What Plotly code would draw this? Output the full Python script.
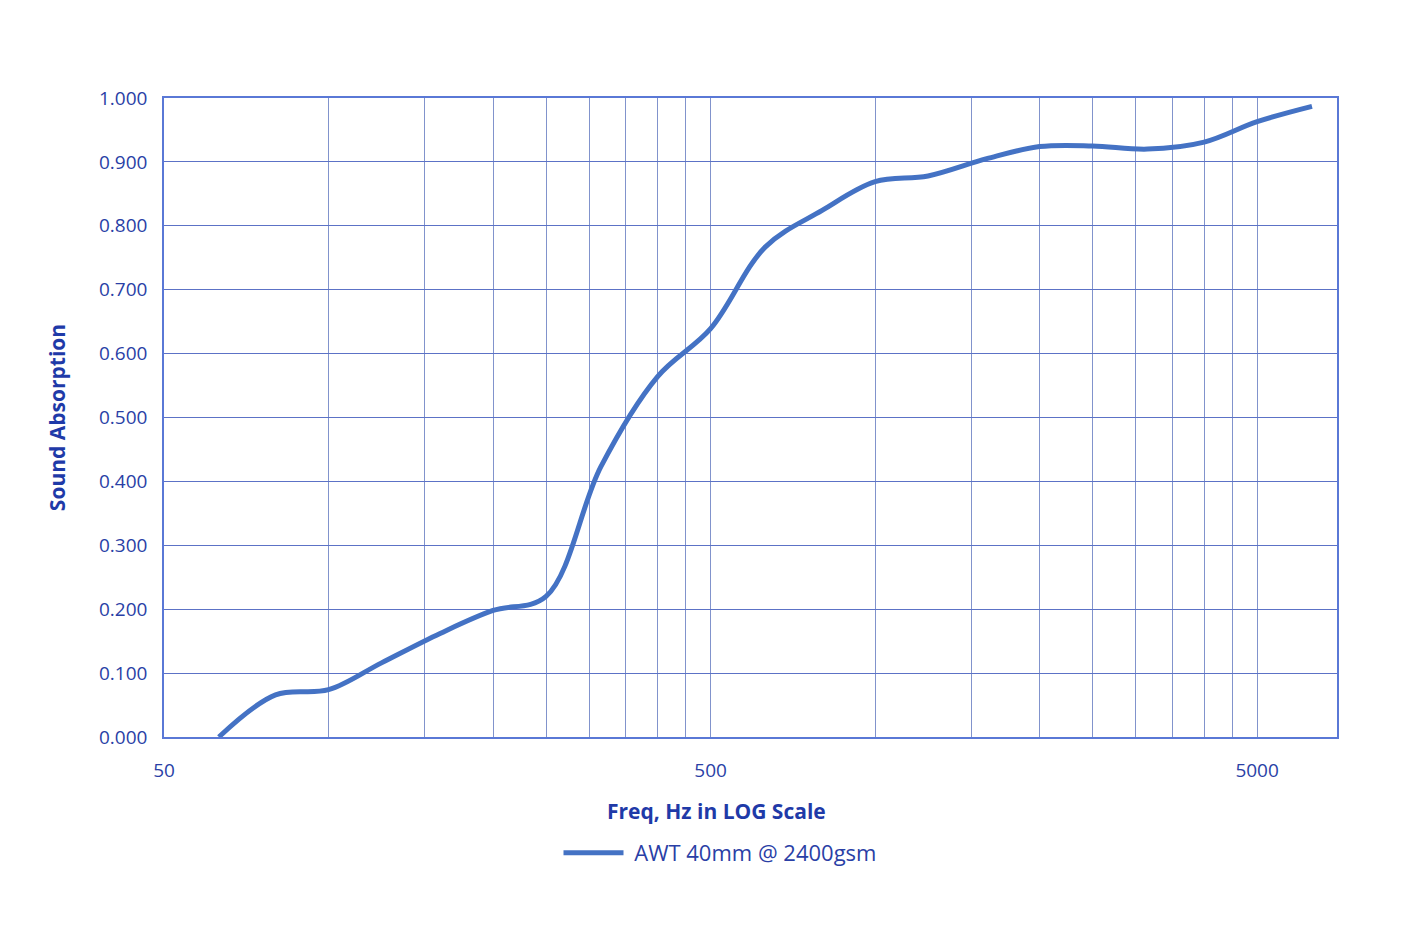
import math
import plotly.graph_objects as go

# Data (1/3-octave frequencies, Hz) and sound absorption coefficients
freq_hz = [63, 80, 100, 125, 160, 200, 250, 315, 400, 500, 630, 800,
           1000, 1250, 1600, 2000, 2500, 3150, 4000, 5000, 6300]
absorption = [0.000, 0.066, 0.074, 0.116, 0.162, 0.198, 0.220, 0.423, 0.564, 0.639,
              0.767, 0.824, 0.869, 0.878, 0.905, 0.924, 0.925, 0.920, 0.931, 0.963, 0.987]
series_name = "AWT 40mm @ 2400gsm"

# Axis grid/ticks (Excel-style log minor grid)
x_grid = [50, 100, 150, 200, 250, 300, 350, 400, 450, 500,
          1000, 1500, 2000, 2500, 3000, 3500, 4000, 4500, 5000]
x_labels = {50: "50", 500: "500", 5000: "5000"}
x_max = 7000
y_ticks = [0.0, 0.1, 0.2, 0.3, 0.4, 0.5, 0.6, 0.7, 0.8, 0.9, 1.0]

TEXT = "#2a3fa6"
TITLE = "#1f3aa8"
XGRID = "#8193cc"
YGRID = "#5c72c6"
AXLINE = "#5a78d6"
LINE = "#4472C4"
FONT = "Open Sans"

fig = go.Figure()
fig.add_trace(go.Scatter(
    x=freq_hz, y=absorption, name=" " + series_name, mode="lines",
    line=dict(color=LINE, width=5, shape="spline", smoothing=1.0),
))

fig.update_layout(
    width=1393, height=943,
    margin=dict(l=156, r=64, t=90, b=214),
    paper_bgcolor="white", plot_bgcolor="white",
    font=dict(family=FONT, color=TEXT, size=19),
    showlegend=True,
    legend=dict(orientation="h", x=0.474, y=-0.1815, xanchor="center", yanchor="middle",
                font=dict(size=22, color=TEXT, family=FONT), itemwidth=60),
)

fig.update_xaxes(
    type="log", range=[math.log10(50), math.log10(x_max)],
    tickvals=x_grid, ticktext=[x_labels.get(v, "") for v in x_grid],
    showgrid=True, gridcolor=XGRID, gridwidth=1.3,
    showline=True, linecolor=AXLINE, linewidth=1.5, mirror=True,
    ticks="", ticklabelstandoff=15, zeroline=False,
    tickfont=dict(size=19, color=TEXT, family=FONT),
)
fig.update_yaxes(
    range=[0, 1.0], tickvals=y_ticks, tickformat=".3f",
    showgrid=True, gridcolor=YGRID, gridwidth=1,
    showline=True, linecolor=AXLINE, linewidth=1.5, mirror=True,
    ticks="", ticklabelstandoff=11, zeroline=False,
    tickfont=dict(size=19, color=TEXT, family=FONT),
)

fig.add_annotation(text="<b>Freq, Hz in LOG Scale</b>", xref="paper", yref="paper",
                   x=0.4706, y=-0.1158, xanchor="center", yanchor="middle",
                   showarrow=False, font=dict(size=21, color=TITLE, family=FONT))
fig.add_annotation(text="<b>Sound Absorption</b>", xref="paper", yref="paper",
                   x=-0.0912, y=0.499, xanchor="center", yanchor="middle", textangle=-90,
                   showarrow=False, font=dict(size=21, color=TITLE, family=FONT))

fig.write_html("out.html")
